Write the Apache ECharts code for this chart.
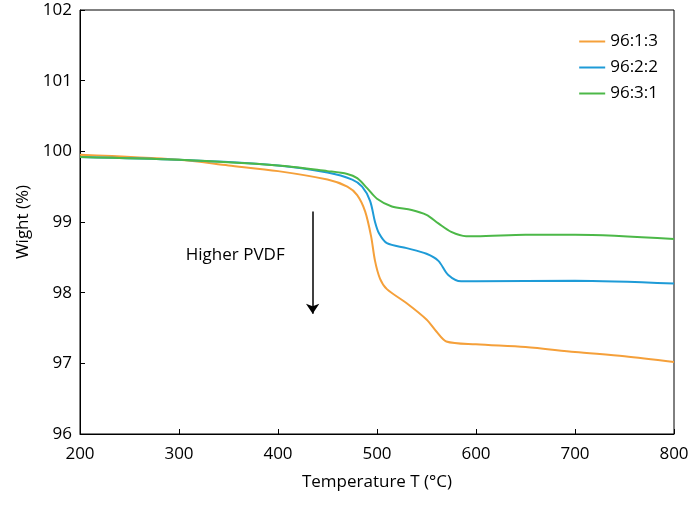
<!DOCTYPE html>
<html>
<head>
<meta charset="utf-8">
<script src="https://cdn.jsdelivr.net/npm/echarts@6/dist/echarts.min.js"></script>
<style>html,body{margin:0;padding:0;background:#fff}#chart{width:693px;height:508px}</style>
</head>
<body>
<div id="chart"></div>
<script>
const seriesNames = ['96:1:3', '96:2:2', '96:3:1'];
const colors = ['#f5a03a', '#1e9bd7', '#4cb848'];
const orange = [[200,99.95],[300,99.88],[350,99.8],[400,99.72],[450,99.6],[470,99.5],[480,99.38],[488,99.15],[494,98.8],[498,98.45],[503,98.2],[510,98.05],[530,97.85],[550,97.62],[560,97.45],[570,97.31],[600,97.27],[650,97.23],[700,97.16],[750,97.1],[800,97.02]];
const blue = [[200,99.92],[300,99.88],[400,99.8],[450,99.7],[475,99.6],[485,99.5],[493,99.3],[498,99.0],[502,98.84],[510,98.7],[530,98.63],[550,98.55],[562,98.45],[572,98.25],[585,98.16],[600,98.16],[700,98.17],[800,98.13]];
const green = [[200,99.92],[300,99.88],[400,99.8],[450,99.72],[470,99.68],[480,99.62],[490,99.48],[500,99.33],[515,99.22],[535,99.17],[550,99.1],[562,98.98],[575,98.86],[590,98.8],[600,98.8],[650,98.82],[700,98.82],[800,98.76]];
const arrowFrom = [435, 99.15];
const arrowTo = [435, 97.7];
const noteText = 'Higher PVDF';

const chart = echarts.init(document.getElementById('chart'));
const font = '"Open Sans", "DejaVu Sans", sans-serif';
const axisCommon = {
  axisLine: { show: true, lineStyle: { color: '#000', width: 1 } },
  axisTick: { show: true, inside: true, length: 5, lineStyle: { color: '#000' } },
  axisLabel: { color: '#000', fontSize: 17, fontFamily: font },
  splitLine: { show: false },
  nameTextStyle: { color: '#000', fontSize: 17, fontFamily: font }
};
const mk = (name, data, i) => ({
  name, type: 'line', data, smooth: 0.3, showSymbol: false,
  lineStyle: { width: 2, color: colors[i] }, itemStyle: { color: colors[i] }
});
const series = [mk(seriesNames[0], orange, 0), mk(seriesNames[1], blue, 1), mk(seriesNames[2], green, 2)];
series[0].markLine = {
  silent: true, symbol: ['none', 'arrow'], symbolSize: 10,
  label: { show: false },
  lineStyle: { color: '#000', width: 1.5, type: 'solid' },
  data: [[{ coord: arrowFrom }, { coord: arrowTo }]]
};
chart.setOption({
  animation: false,
  grid: { left: 80, right: 19, top: 10, bottom: 74, show: true, borderColor: '#000', borderWidth: 1 },
  legend: {
    orient: 'vertical', right: 30, top: 28, itemGap: 9, itemWidth: 26, itemHeight: 2,
    icon: 'rect', textStyle: { fontSize: 17, fontFamily: font, color: '#000' },
    data: seriesNames
  },
  xAxis: Object.assign({}, axisCommon, {
    type: 'value', min: 200, max: 800, interval: 100,
    name: 'Temperature T (°C)', nameLocation: 'middle', nameGap: 40,
    axisLabel: Object.assign({}, axisCommon.axisLabel, { margin: 12 })
  }),
  yAxis: Object.assign({}, axisCommon, {
    type: 'value', min: 96, max: 102, interval: 1,
    name: 'Wight (%)', nameLocation: 'middle', nameGap: 47
  }),
  series
});
const p = chart.convertToPixel({ gridIndex: 0 }, [arrowFrom[0], 98.4]);
chart.setOption({
  graphic: [{
    type: 'text', x: p[0] - 28, y: p[1] - 9,
    style: { text: noteText, fill: '#000', fontSize: 17, fontFamily: font, align: 'right', verticalAlign: 'middle' }
  }]
});
</script>
</body>
</html>
